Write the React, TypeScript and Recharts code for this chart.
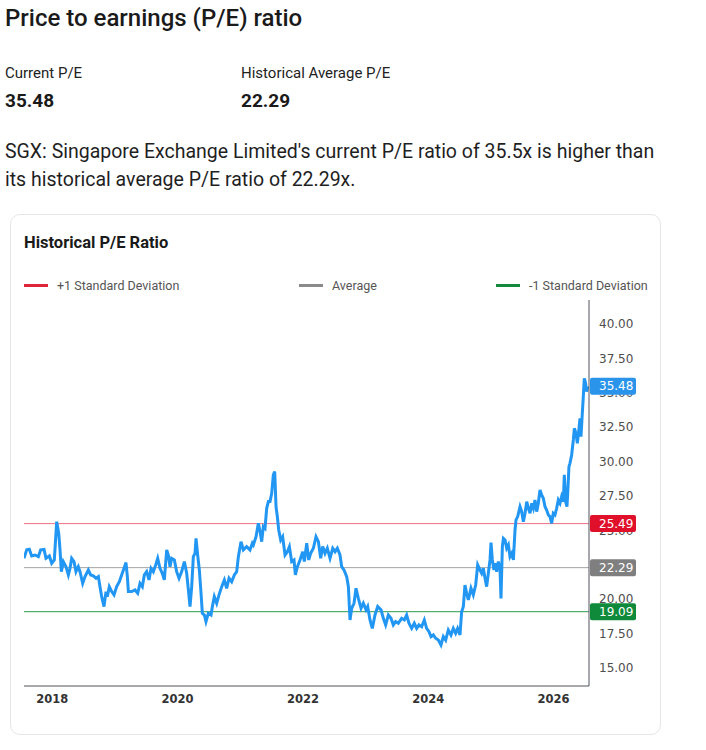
import React from "react";
import { LineChart, Line, XAxis, YAxis, ReferenceLine } from "recharts";

const dates = [
  2017.548, 2017.591, 2017.633, 2017.67, 2017.724, 2017.777, 2017.814, 2017.868, 2017.899, 2017.953,
  2017.99, 2018.032, 2018.07, 2018.102, 2018.123, 2018.144, 2018.176, 2018.219, 2018.256, 2018.282,
  2018.309, 2018.346, 2018.378, 2018.415, 2018.442, 2018.485, 2018.522, 2018.575, 2018.612, 2018.655,
  2018.698, 2018.735, 2018.761, 2018.788, 2018.825, 2018.857, 2018.878, 2018.91, 2018.948, 2018.985,
  2019.027, 2019.07, 2019.107, 2019.145, 2019.176, 2019.198, 2019.214, 2019.267, 2019.32, 2019.363,
  2019.4, 2019.437, 2019.469, 2019.506, 2019.544, 2019.576, 2019.613, 2019.65, 2019.682, 2019.719,
  2019.756, 2019.788, 2019.826, 2019.852, 2019.879, 2019.905, 2019.948, 2019.985, 2020.023, 2020.065,
  2020.108, 2020.145, 2020.172, 2020.198, 2020.225, 2020.251, 2020.278, 2020.294, 2020.32, 2020.347,
  2020.374, 2020.395, 2020.427, 2020.453, 2020.49, 2020.533, 2020.555, 2020.586, 2020.624, 2020.661,
  2020.704, 2020.746, 2020.783, 2020.821, 2020.863, 2020.906, 2020.943, 2020.97, 2021.012, 2021.049,
  2021.102, 2021.155, 2021.193, 2021.209, 2021.252, 2021.289, 2021.316, 2021.342, 2021.369, 2021.395,
  2021.422, 2021.449, 2021.475, 2021.502, 2021.528, 2021.55, 2021.571, 2021.592, 2021.614, 2021.646,
  2021.677, 2021.715, 2021.752, 2021.784, 2021.821, 2021.858, 2021.88, 2021.912, 2021.954, 2021.997,
  2022.023, 2022.061, 2022.093, 2022.124, 2022.167, 2022.209, 2022.247, 2022.284, 2022.316, 2022.353,
  2022.39, 2022.433, 2022.476, 2022.513, 2022.55, 2022.592, 2022.619, 2022.656, 2022.699, 2022.726,
  2022.752, 2022.779, 2022.816, 2022.848, 2022.885, 2022.928, 2022.965, 2023.008, 2023.034, 2023.071,
  2023.108, 2023.151, 2023.194, 2023.247, 2023.284, 2023.321, 2023.364, 2023.406, 2023.443, 2023.48,
  2023.523, 2023.576, 2023.619, 2023.656, 2023.693, 2023.736, 2023.778, 2023.816, 2023.853, 2023.896,
  2023.938, 2023.975, 2024.013, 2024.045, 2024.082, 2024.119, 2024.162, 2024.204, 2024.242, 2024.279,
  2024.321, 2024.364, 2024.401, 2024.438, 2024.47, 2024.508, 2024.534, 2024.561, 2024.587, 2024.614,
  2024.641, 2024.683, 2024.72, 2024.758, 2024.79, 2024.827, 2024.854, 2024.88, 2024.907, 2024.933,
  2024.96, 2024.987, 2025.003, 2025.024, 2025.05, 2025.072, 2025.093, 2025.12, 2025.146, 2025.162,
  2025.184, 2025.2, 2025.227, 2025.253, 2025.28, 2025.306, 2025.333, 2025.36, 2025.386, 2025.402,
  2025.429, 2025.466, 2025.493, 2025.519, 2025.546, 2025.573, 2025.599, 2025.626, 2025.652, 2025.679,
  2025.705, 2025.732, 2025.758, 2025.785, 2025.811, 2025.838, 2025.865, 2025.891, 2025.918, 2025.944,
  2025.971, 2025.997, 2026.024, 2026.05, 2026.077, 2026.104, 2026.13, 2026.157, 2026.173, 2026.194,
  2026.215, 2026.226, 2026.247, 2026.263, 2026.29, 2026.317, 2026.333, 2026.359, 2026.381, 2026.402,
  2026.423, 2026.439, 2026.46, 2026.476, 2026.492, 2026.513, 2026.529, 2026.551,
];

const peValues = [
  22.97, 23.58, 23.62, 23.14, 23.21, 23.09, 23.58, 23.62, 22.97, 23.14,
  22.61, 22.85, 25.63, 24.79, 23.58, 22.0, 22.73, 22.36, 21.76, 22.24,
  22.97, 22.73, 22.0, 22.36, 22.0, 21.15, 21.64, 22.12, 21.76, 21.69,
  21.52, 21.64, 20.91, 20.18, 19.46, 20.55, 20.18, 20.91, 20.55, 20.31,
  20.91, 21.27, 21.76, 22.24, 22.66, 21.64, 20.55, 20.55, 20.67, 20.43,
  21.15, 20.91, 21.76, 22.0, 21.4, 22.24, 22.0, 22.49, 22.97, 22.24,
  21.88, 21.4, 23.58, 23.21, 22.36, 22.97, 22.85, 22.0, 21.52, 22.0,
  22.73, 21.88, 20.67, 19.46, 20.91, 23.09, 23.33, 24.42, 23.21, 22.12,
  20.43, 18.97, 18.85, 18.37, 18.97, 18.85, 19.46, 20.18, 19.7, 20.31,
  20.91, 21.4, 20.79, 21.52, 21.27, 21.76, 22.0, 23.09, 24.18, 23.58,
  23.82, 23.58, 24.06, 23.94, 24.54, 25.51, 24.91, 24.18, 25.27, 25.15,
  26.6, 27.09, 27.09, 27.69, 29.03, 29.27, 26.72, 26.0, 25.03, 24.3,
  24.54, 23.21, 23.45, 23.82, 22.73, 22.85, 21.76, 22.36, 22.85, 23.45,
  22.73, 24.06, 22.85, 23.33, 23.7, 24.54, 24.18, 22.97, 23.82, 23.33,
  23.7, 22.97, 23.7, 23.45, 23.7, 23.21, 22.36, 22.12, 21.64, 20.91,
  18.49, 19.34, 19.7, 20.79, 20.06, 19.34, 19.7, 19.22, 19.46, 18.49,
  17.88, 18.85, 19.46, 19.22, 18.61, 18.13, 18.85, 18.61, 18.13, 18.37,
  18.25, 18.61, 18.49, 18.85, 18.25, 17.88, 18.25, 17.88, 18.13, 18.0,
  18.49, 17.88, 17.64, 17.28, 17.4, 17.16, 17.03, 16.67, 17.28, 17.03,
  17.76, 17.4, 17.88, 17.52, 17.88, 17.4, 19.09, 19.46, 21.03, 20.43,
  19.94, 20.79, 20.31, 21.03, 22.49, 22.12, 21.88, 22.24, 21.52, 20.91,
  21.88, 22.85, 24.11, 22.85, 22.12, 22.61, 22.0, 22.73, 22.24, 20.06,
  23.82, 24.42, 24.3, 23.7, 23.94, 23.09, 23.33, 22.85, 25.03, 25.76,
  26.0, 26.72, 26.36, 25.63, 26.24, 27.09, 26.6, 26.24, 26.97, 26.6,
  27.21, 26.36, 26.97, 27.94, 27.57, 27.33, 26.72, 26.48, 26.12, 26.0,
  25.51, 26.24, 26.12, 26.6, 27.21, 26.97, 27.45, 27.09, 29.03, 27.09,
  26.72, 27.57, 29.63, 29.87, 30.48, 31.57, 32.42, 32.05, 31.33, 32.17,
  33.14, 31.81, 33.5, 34.72, 36.05, 35.69, 35.08, 35.48,
];

const xTicks = [2018, 2020, 2022, 2024, 2026];
const yTicks = [15, 17.5, 20, 22.5, 25, 27.5, 30, 32.5, 35, 37.5, 40];

const currentPE = 35.48;
const averagePE = 22.29;
const plusOneSD = 25.49;
const minusOneSD = 19.09;

const legendItems = [
  { label: "+1 Standard Deviation", color: "#e0243c" },
  { label: "Average", color: "#8a8a8a" },
  { label: "-1 Standard Deviation", color: "#158a3e" },
];

const badgeColors: Record<string, string> = {
  [String(currentPE)]: "#2a93ea",
  [String(plusOneSD)]: "#e0102b",
  [String(averagePE)]: "#7f7f7f",
  [String(minusOneSD)]: "#0f8a3a",
};

const data = dates.map((t, i) => ({ t, pe: peValues[i] }));

const AXIS_FONT = "'DejaVu Sans', Verdana, sans-serif";
const UI_FONT = "Roboto, 'Liberation Sans', Arial, sans-serif";

function YTick(props: any) {
  const { x, y, payload } = props;
  const v = payload.value;
  const badge = badgeColors[String(v)];
  if (badge) {
    return (
      <g>
        <rect x={x - 9} y={y - 8.5} width={46} height={17} rx={2} fill={badge} />
        <text x={x} y={y} dy="0.36em" fill="#ffffff" fontSize={12} fontFamily={AXIS_FONT}>
          {v.toFixed(2)}
        </text>
      </g>
    );
  }
  return (
    <text x={x} y={y} dy="0.36em" fill="#4d4d4d" fontSize={12} fontFamily={AXIS_FONT}>
      {v.toFixed(2)}
    </text>
  );
}

export default function App() {
  return (
    <div
      style={{
        position: "absolute",
        left: 0,
        top: 0,
        width: 706,
        height: 750,
        background: "#ffffff",
        fontFamily: UI_FONT,
        color: "#1a1a1a",
        overflow: "hidden",
      }}
    >
      <div style={{ position: "absolute", left: 5, top: 4, fontSize: 24, fontWeight: 500, lineHeight: "28px" }}>
        Price to earnings (P/E) ratio
      </div>
      <div style={{ position: "absolute", left: 5, top: 63, fontSize: 15, lineHeight: "20px", color: "#222" }}>
        Current P/E
      </div>
      <div style={{ position: "absolute", left: 5, top: 89, fontSize: 19, fontWeight: 700, lineHeight: "24px" }}>
        35.48
      </div>
      <div style={{ position: "absolute", left: 241, top: 63, fontSize: 15, lineHeight: "20px", color: "#222" }}>
        Historical Average P/E
      </div>
      <div style={{ position: "absolute", left: 241, top: 89, fontSize: 19, fontWeight: 700, lineHeight: "24px" }}>
        22.29
      </div>
      <div
        style={{
          position: "absolute",
          left: 5,
          top: 138,
          width: 655,
          fontSize: 19.5,
          lineHeight: "28px",
          color: "#1f1f1f",
        }}
      >
        SGX: Singapore Exchange Limited's current P/E ratio of 35.5x is higher than its historical average P/E ratio of 22.29x.
      </div>

      <div
        style={{
          position: "absolute",
          left: 10,
          top: 214,
          width: 651,
          height: 521,
          border: "1px solid #e6e6e6",
          borderRadius: 10,
          boxSizing: "border-box",
        }}
      />
      <div style={{ position: "absolute", left: 24, top: 233, fontSize: 16.5, fontWeight: 700, lineHeight: "20px" }}>
        Historical P/E Ratio
      </div>

      {legendItems.map((item, i) => (
        <div
          key={item.label}
          style={{
            position: "absolute",
            left: [24, 299, 496][i],
            top: 276,
            height: 18,
            display: "flex",
            alignItems: "center",
            fontSize: 12.5,
            color: "#555",
          }}
        >
          <span style={{ display: "inline-block", width: 24, height: 3, background: item.color, marginRight: 9 }} />
          {item.label}
        </div>
      ))}

      <div style={{ position: "absolute", left: 0, top: 0 }}>
        <LineChart width={706} height={750} data={data} margin={{ top: 300, right: 57, bottom: 34, left: 24 }}>
          <XAxis
            dataKey="t"
            type="number"
            domain={[2017.548, 2026.567]}
            ticks={xTicks}
            allowDataOverflow
            height={30}
            tickLine={false}
            tickSize={0}
            tickMargin={9}
            axisLine={{ stroke: "#50535e", strokeWidth: 1 }}
            tick={{ fontSize: 11.5, fontWeight: 700, fill: "#333", fontFamily: AXIS_FONT }}
            tickFormatter={(v: number) => String(v)}
          />
          <YAxis
            orientation="right"
            type="number"
            domain={[13.69, 41.74]}
            ticks={[...yTicks, minusOneSD, averagePE, plusOneSD, currentPE]}
            interval={0}
            allowDataOverflow
            width={60}
            tickLine={false}
            tickSize={0}
            tickMargin={10}
            axisLine={{ stroke: "#50535e", strokeWidth: 1 }}
            tick={<YTick />}
          />
          <ReferenceLine y={plusOneSD} stroke="#ee6f80" strokeWidth={1} />
          <ReferenceLine y={averagePE} stroke="#a3a3a3" strokeWidth={1} />
          <ReferenceLine y={minusOneSD} stroke="#2a9a4e" strokeWidth={1} />
          <Line
            type="linear"
            dataKey="pe"
            stroke="#2196f3"
            strokeWidth={3}
            dot={false}
            isAnimationActive={false}
          />
        </LineChart>
      </div>
    </div>
  );
}
